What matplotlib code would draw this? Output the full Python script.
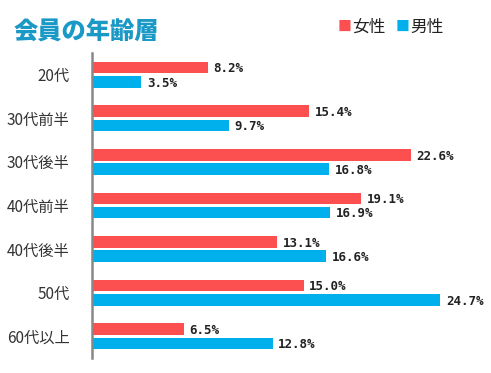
import numpy as np
import matplotlib.pyplot as plt

plt.rcParams['font.family'] = ['Noto Sans CJK JP', 'DejaVu Sans']

# ==========================
# Dati
# ==========================

categories = ["20代", "30代前半", "30代後半", "40代前半", "40代後半", "50代", "60代以上"]
female = [8.2, 15.4, 22.6, 19.1, 13.1, 15.0, 6.5]
male = [3.5, 9.7, 16.8, 16.9, 16.6, 24.7, 12.8]

red = "#fc4f4f"
blue = "#00b0ec"

# ==========================
# Plot
# ==========================

fig = plt.figure(figsize=(4.91, 3.73), dpi=100)
ax = fig.add_axes([92 / 491, 15 / 373, 378 / 491, 305 / 373])

y = np.arange(len(categories))
h = 0.265
off = 0.165

ax.barh(y - off, female, height=h, color=red)
ax.barh(y + off, male, height=h, color=blue)

for yi, v in zip(y, female):
    ax.text(v + 0.4, yi - off + 0.03, f"{v:.1f}%", va="center", ha="left",
            fontsize=9, fontweight="bold", family="DejaVu Sans Mono", color="#222222")
for yi, v in zip(y, male):
    ax.text(v + 0.4, yi + off + 0.03, f"{v:.1f}%", va="center", ha="left",
            fontsize=9, fontweight="bold", family="DejaVu Sans Mono", color="#222222")

ax.set_xlim(0, 26.8)
ax.set_ylim(6.5, -0.5)
ax.set_yticks(y)
ax.set_yticklabels(categories, fontsize=11, color="#333333")
ax.tick_params(axis="y", length=0, pad=16)
ax.set_xticks([])

for s in ["top", "right", "bottom"]:
    ax.spines[s].set_visible(False)
ax.spines["left"].set_color("#888888")
ax.spines["left"].set_linewidth(1.8)

# titolo
fig.text(14 / 491, 1 - 32 / 373, "会員の年齢層", fontsize=17.5, fontweight="black",
         color="#1a98c6", va="center", ha="left")

# legenda
fig.text(338 / 491, 1 - 27 / 373, "■", fontsize=10, color=red, va="center", ha="left")
fig.text(352 / 491, 1 - 27 / 373, "女性", fontsize=12, color="#222222", va="center", ha="left")
fig.text(396 / 491, 1 - 27 / 373, "■", fontsize=10, color=blue, va="center", ha="left")
fig.text(410 / 491, 1 - 27 / 373, "男性", fontsize=12, color="#222222", va="center", ha="left")

plt.savefig("out.png", dpi=100)
